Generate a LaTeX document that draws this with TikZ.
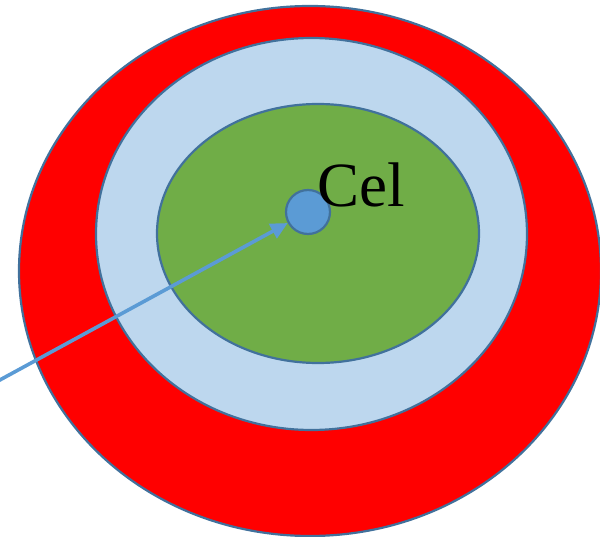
\documentclass[tikz,border=0pt]{standalone}
\usepackage{fontspec}
\setmainfont{Liberation Serif}
\usetikzlibrary{shapes.geometric,arrows.meta}
\definecolor{outl}{HTML}{41719C}
\definecolor{ltblue}{HTML}{BDD7EE}
\definecolor{grn}{HTML}{70AD47}
\definecolor{midblue}{HTML}{5B9BD5}
\tikzset{
  ring/.style={ellipse, draw=outl, line width=2.2pt, inner sep=0pt},
}
\begin{document}
\begin{tikzpicture}[x=1pt,y=-1pt]
\useasboundingbox (0,0) rectangle (600,537);
\clip (0,0) rectangle (600,537);
\node[ring, fill=red, minimum width=582pt, minimum height=530pt] (outer) at (310,271) {};
\node[ring, fill=ltblue, minimum width=431pt, minimum height=392pt] (mid) at (311.5,234) {};
\node[ring, fill=grn, minimum width=322pt, minimum height=259pt] (inner) at (318,233.5) {};
\node[circle, draw=outl, line width=2.2pt, fill=midblue, minimum size=44pt, inner sep=0pt] (cell) at (308,212) {};
\coordinate (start) at (-2,381);
\draw[midblue, line width=3.6pt, -{Triangle[length=17pt,width=16pt]}] (start) -- (cell);
\node[anchor=base west, inner sep=0pt, font=\fontsize{63}{63}\selectfont] (lbl) at (317,207) {Cel};
\end{tikzpicture}
\end{document}
